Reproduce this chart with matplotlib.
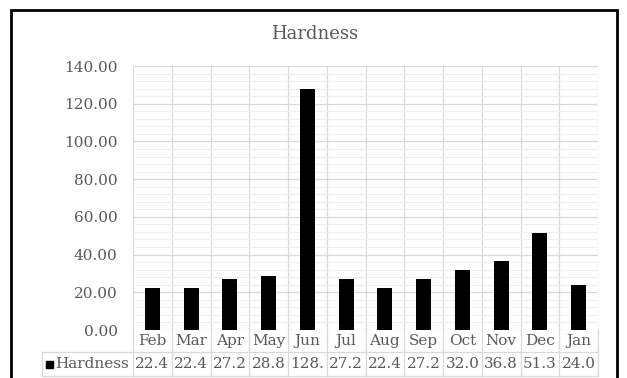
import numpy as np
import matplotlib
matplotlib.use("Agg")
import matplotlib.pyplot as plt
from matplotlib.patches import Rectangle
from matplotlib.lines import Line2D

# Chart data
months = ["Feb", "Mar", "Apr", "May", "Jun", "Jul", "Aug", "Sep", "Oct", "Nov", "Dec", "Jan"]
hardness = [22.4, 22.4, 27.2, 28.8, 128.0, 27.2, 22.4, 27.2, 32.0, 36.8, 51.3, 24.0]
table_labels = ["22.4", "22.4", "27.2", "28.8", "128.", "27.2", "22.4", "27.2", "32.0", "36.8", "51.3", "24.0"]
series_name = "Hardness"

plt.rcParams['font.family'] = ['DejaVu Serif']
txt = "#595959"
grid_c = "#d9d9d9"
W, H = 627, 378
fs = 11

fig = plt.figure(figsize=(W / 100, H / 100), dpi=100)
# plot area in pixels: x 133..598, y 66..330
L, R, T, B = 133, 598, 66, 330
ax = fig.add_axes([L / W, 1 - B / H, (R - L) / W, (B - T) / H])

x = np.arange(len(months))
ax.bar(x, hardness, width=0.39, color="black", zorder=3)

ax.set_xlim(-0.5, len(months) - 0.5)
ax.set_ylim(0, 140)
ax.set_yticks(np.arange(0, 141, 20))
ax.set_yticklabels([f"{v:.2f}" for v in np.arange(0, 141, 20)], color=txt, fontsize=fs)
ax.set_yticks(np.arange(0, 141, 4), minor=True)
ax.tick_params(axis="y", which="both", length=0, pad=11)
ax.set_xticks([])
ax.grid(axis="y", which="major", color=grid_c, lw=0.9, zorder=0)
ax.grid(axis="y", which="minor", color="#efefef", lw=0.8, zorder=0)
for b in np.arange(-0.5, len(months), 1):
    ax.axvline(b, color=grid_c, lw=0.9, zorder=1)
for s in ax.spines.values():
    s.set_visible(False)

# data table under the plot
def ay(p):
    return (B - p) / (B - T)

def axx(p):
    return (p - L) / (R - L)

tr = ax.get_xaxis_transform()
y_mid1, y_line, y_mid2, y_bot = ay(341), ay(352), ay(364), ay(376)
for b in np.arange(-0.5, len(months), 1):
    ax.add_line(Line2D([b, b], [0, y_bot], transform=tr, color=grid_c, lw=0.9, clip_on=False))
for yy in (y_line, y_bot):
    ax.add_line(Line2D([axx(42), 1], [yy, yy], transform=ax.transAxes, color=grid_c, lw=0.9, clip_on=False))
ax.add_line(Line2D([axx(42), axx(42)], [y_line, y_bot], transform=ax.transAxes, color=grid_c, lw=0.9, clip_on=False))
for i, m in enumerate(months):
    ax.text(i, y_mid1, m, transform=tr, ha="center", va="center", color=txt, fontsize=fs, clip_on=False)
    ax.text(i, y_mid2, table_labels[i], transform=tr, ha="center", va="center", color=txt, fontsize=fs, clip_on=False)
ax.add_patch(Rectangle((axx(46), ay(368)), axx(53) - axx(46), ay(361) - ay(368), transform=ax.transAxes,
                       color="black", clip_on=False))
ax.text(axx(55), y_mid2, series_name, transform=ax.transAxes, ha="left", va="center", color=txt, fontsize=fs)

fig.text(315 / W, 1 - 34 / H, "Hardness", ha="center", va="center", color=txt, fontsize=13)

# outer chart border
fig.patches.append(Rectangle((11 / W, -0.05), (617 - 11) / W, 1.05 - 10 / H, transform=fig.transFigure,
                             fill=False, ec="black", lw=2.0))

fig.savefig("out.png", dpi=100)
